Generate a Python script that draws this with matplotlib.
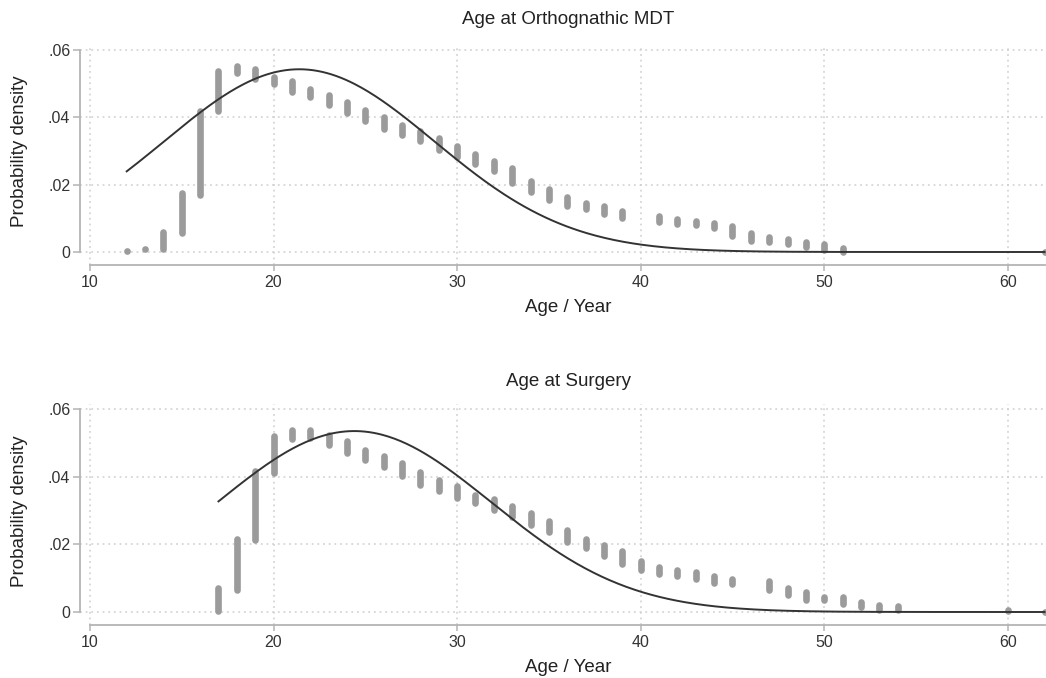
import matplotlib
matplotlib.use("Agg")
import matplotlib.pyplot as plt
import numpy as np

plt.rcParams['font.family'] = ['Liberation Sans', 'DejaVu Sans']

# spikes: age, lower and upper density value
mdt_age = [12, 13, 14, 15, 16, 17, 18, 19, 20, 21, 22, 23, 24, 25, 26, 27, 28, 29, 30,
           31, 32, 33, 34, 35, 36, 37, 38, 39, 41, 42, 43, 44, 45, 46, 47, 48, 49, 50, 51, 62]
mdt_lo = [0.0003, 0.0008, 0.0008, 0.0056, 0.0170, 0.0419, 0.0533, 0.0513, 0.0498, 0.0474,
          0.0459, 0.0436, 0.0412, 0.0389, 0.0364, 0.0349, 0.0329, 0.0304, 0.0283,
          0.0260, 0.0240, 0.0205, 0.0177, 0.0153, 0.0138, 0.0127, 0.0113, 0.0101,
          0.0090, 0.0084, 0.0079, 0.0071, 0.0048, 0.0034, 0.0030, 0.0023, 0.0016,
          0.0006, 0.0001, 0.0001]
mdt_hi = [0.0003, 0.0008, 0.0058, 0.0175, 0.0419, 0.0538, 0.0551, 0.0543, 0.0521, 0.0508,
          0.0484, 0.0466, 0.0446, 0.0422, 0.0402, 0.0376, 0.0359, 0.0339, 0.0314,
          0.0290, 0.0270, 0.0250, 0.0210, 0.0187, 0.0163, 0.0147, 0.0137, 0.0123,
          0.0107, 0.0098, 0.0093, 0.0087, 0.0078, 0.0056, 0.0044, 0.0038, 0.0031,
          0.0024, 0.0011, 0.0001]

surg_age = [17, 18, 19, 20, 21, 22, 23, 24, 25, 26, 27, 28, 29, 30, 31, 32, 33, 34, 35,
            36, 37, 38, 39, 40, 41, 42, 43, 44, 45, 47, 48, 49, 50, 51, 52, 53, 54, 60, 62]
surg_lo = [0.0002, 0.0064, 0.0212, 0.0412, 0.0511, 0.0514, 0.0494, 0.0470, 0.0450, 0.0430,
           0.0403, 0.0376, 0.0359, 0.0337, 0.0322, 0.0302, 0.0282, 0.0258, 0.0235,
           0.0206, 0.0189, 0.0166, 0.0143, 0.0123, 0.0113, 0.0107, 0.0097, 0.0087,
           0.0084, 0.0064, 0.0051, 0.0036, 0.0036, 0.0025, 0.0015, 0.0007, 0.0005,
           0.0003, 0.0001]
surg_hi = [0.0071, 0.0216, 0.0418, 0.0521, 0.0539, 0.0539, 0.0524, 0.0504, 0.0480, 0.0462,
           0.0440, 0.0415, 0.0389, 0.0371, 0.0347, 0.0334, 0.0312, 0.0292, 0.0270,
           0.0243, 0.0216, 0.0199, 0.0179, 0.0152, 0.0132, 0.0123, 0.0117, 0.0107,
           0.0097, 0.0093, 0.0071, 0.0058, 0.0044, 0.0044, 0.0031, 0.0020, 0.0017,
           0.0005, 0.0001]

# fitted normal overlay (mean, sd, age range)
mdt_mean, mdt_sd, mdt_range = 21.4, 7.35, (12, 62)
surg_mean, surg_sd, surg_range = 24.4, 7.46, (17, 62)

titles = ['Age at Orthognathic MDT', 'Age at Surgery']
xticks = [10, 20, 30, 40, 50, 60]
yticks = [0, 0.02, 0.04, 0.06]
ytick_labels = ['0', '.02', '.04', '.06']

W, H = 1046, 678
SPIKE = '#9b9b9b'
AXIS = '#b4b4b4'
GRID = '#cfcfcf'


def normal_pdf(x, mu, sd):
    return np.exp(-0.5 * ((x - mu) / sd) ** 2) / (sd * np.sqrt(2 * np.pi))


def draw_panel(fig, top_px, zero_px, six_px, bottom_px, ages, lo, hi, mu, sd, xr):
    ax = fig.add_axes([80 / W, 1 - bottom_px / H, (W - 80) / W, (bottom_px - top_px) / H])
    px_per_unit = (zero_px - six_px) / 0.06
    ax.set_ylim(-(bottom_px - zero_px) / px_per_unit, 0.06 + (six_px - top_px) / px_per_unit)
    px_per_year = 918 / 50
    ax.set_xlim(10 - 10 / px_per_year, 62 + 1.5 / px_per_year)

    for yv in yticks:
        ax.axhline(yv, color=GRID, lw=1.1, ls=(0, (1.2, 2.5)), zorder=0)
    for xv in xticks:
        ax.axvline(xv, color=GRID, lw=1.1, ls=(0, (1.2, 2.5)), zorder=0)

    ax.vlines(ages, lo, hi, color=SPIKE, lw=4.8, capstyle='round', zorder=2)
    for a, l, h in zip(ages, lo, hi):
        if h - l < 1e-4:
            ax.plot([a], [l], 'o', color=SPIKE, ms=4.8, mec='none', zorder=2)

    xs = np.linspace(xr[0], xr[1], 400)
    ax.plot(xs, normal_pdf(xs, mu, sd), color='#333333', lw=1.4, zorder=3)

    for s in ['top', 'right']:
        ax.spines[s].set_visible(False)
    for s in ['left', 'bottom']:
        ax.spines[s].set_color(AXIS)
        ax.spines[s].set_linewidth(1.3)
    ax.spines['left'].set_bounds(0, 0.06)
    ax.spines['bottom'].set_bounds(10, 62)

    ax.set_xticks(xticks)
    ax.set_yticks(yticks)
    ax.set_yticklabels(ytick_labels)
    ax.tick_params(axis='both', colors=AXIS, labelcolor='#333333', labelsize=11.5,
                   width=1.1)
    ax.tick_params(axis='y', length=5, pad=2)
    ax.tick_params(axis='x', length=4, pad=3)
    ax.set_facecolor('none')
    return ax


fig = plt.figure(figsize=(W / 100, H / 100), dpi=100)

draw_panel(fig, 45, 252, 50, 265, mdt_age, mdt_lo, mdt_hi, mdt_mean, mdt_sd, mdt_range)
draw_panel(fig, 404, 612, 409, 625, surg_age, surg_lo, surg_hi, surg_mean, surg_sd, surg_range)

cx = (90 + 1046) / 2 / W
for t, ypx in zip(titles, [20, 381]):
    fig.text(cx, 1 - ypx / H, t, ha='center', va='center', fontsize=13.5, color='#222222')
for ypx in [307, 667]:
    fig.text(cx, 1 - ypx / H, 'Age / Year', ha='center', va='center', fontsize=13.5,
             color='#222222')
for ypx in [151, 511]:
    fig.text(20 / W, 1 - ypx / H, 'Probability density', ha='center', va='center',
             rotation=90, fontsize=13.5, color='#222222')

fig.savefig('out.png', dpi=100)
